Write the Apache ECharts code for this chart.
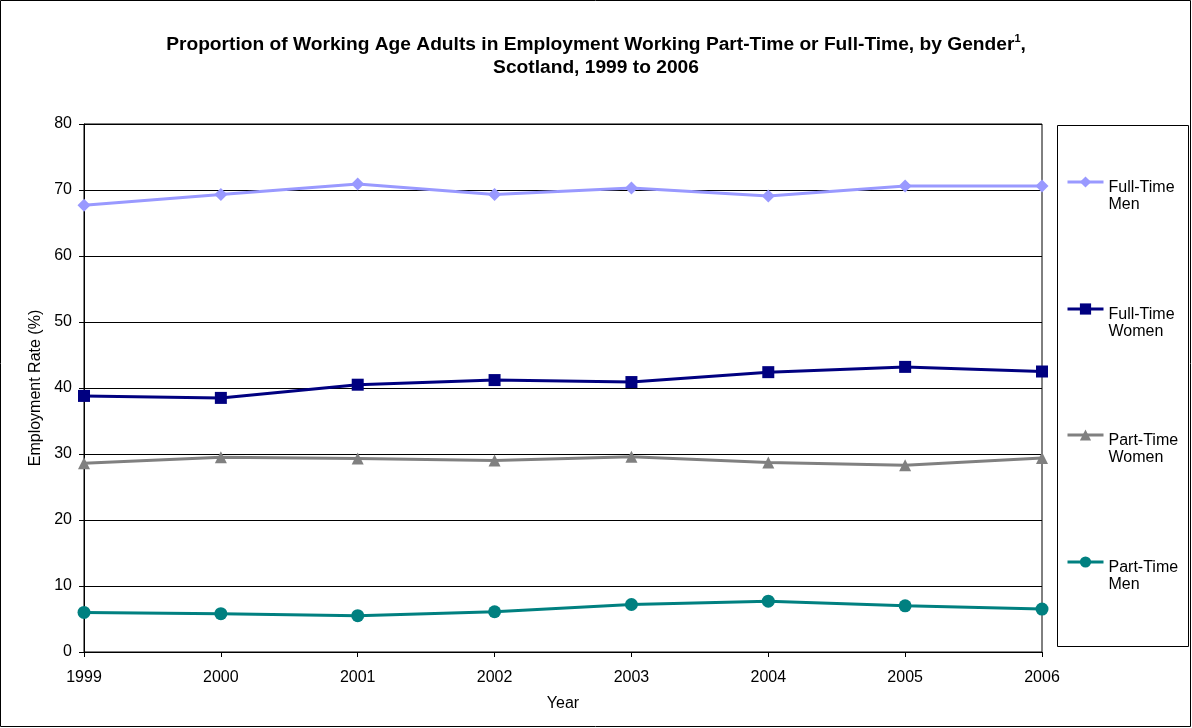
<!DOCTYPE html>
<html><head><meta charset="utf-8">
<script src="https://cdn.jsdelivr.net/npm/echarts@6/dist/echarts.min.js"></script>
<style>html,body{margin:0;padding:0;background:#fff}#c{width:1192px;height:728px}</style>
</head><body><div id="c"></div>
<script>
const years = ['1999','2000','2001','2002','2003','2004','2005','2006'];
const fullTimeMen = [67.7, 69.3, 70.9, 69.3, 70.3, 69.1, 70.6, 70.6];
const fullTimeWomen = [38.8, 38.5, 40.5, 41.2, 40.9, 42.4, 43.2, 42.5];
const partTimeWomen = [28.6, 29.5, 29.3, 29.0, 29.6, 28.7, 28.3, 29.4];
const partTimeMen = [6.0, 5.8, 5.5, 6.1, 7.2, 7.7, 7.0, 6.5];
const seriesNames = ['Full-Time Men', 'Full-Time Women', 'Part-Time Women', 'Part-Time Men'];

const font = '"Liberation Sans", Arial, sans-serif';
const chart = echarts.init(document.getElementById('c'));
const legendTops = [157, 284, 410, 537];
const mk = (name, data, color, symbol, size) => ({
  name, type: 'line', data, symbol, symbolSize: size,
  lineStyle: {color, width: 3}, itemStyle: {color}, color, animation: false
});
chart.setOption({
  animation: false,
  textStyle: {fontFamily: font},
  title: {
    text: '{t|Proportion of Working Age Adults in Employment Working Part-Time or Full-Time, by Gender}{s|1}{t|,}\n{t|Scotland, 1999 to 2006}',
    left: 'center', top: 28,
    textStyle: {
      fontFamily: font,
      rich: {
        t: {fontSize: 19.2, fontWeight: 'bold', color: '#000', fontFamily: font, lineHeight: 23},
        s: {fontSize: 11, fontWeight: 'bold', color: '#000', fontFamily: font, verticalAlign: 'top', lineHeight: 23, padding: [0, 0, 9, 0]}
      }
    }
  },
  graphic: [
    {type: 'rect', shape: {x: 0.5, y: 0.5, width: 1190, height: 726}, style: {fill: 'none', stroke: '#000', lineWidth: 1}, silent: true},
    {type: 'rect', shape: {x: 1057.5, y: 125.5, width: 131, height: 521}, style: {fill: 'none', stroke: '#000', lineWidth: 1}, silent: true}
  ],
  legend: seriesNames.map((n, i) => ({
    data: [n], left: 1066, top: legendTops[i], orient: 'vertical', padding: 0,
    itemWidth: 36, itemHeight: 14, itemGap: 0,
    lineStyle: {width: 3},
    formatter: name => '{e| }\n{a|' + name.replace(' ', '}\n{a|') + '}',
    textStyle: {
      fontFamily: font, fontSize: 16, color: '#000',
      rich: {
        e: {fontSize: 16, lineHeight: 28, fontFamily: font},
        a: {fontSize: 16, lineHeight: 17, color: '#000', fontFamily: font}
      }
    },
    selectedMode: false
  })),
  grid: {left: 84, right: 150, top: 124, bottom: 76, show: true, borderColor: '#000', borderWidth: 1, containLabel: false},
  xAxis: {
    type: 'category', data: years, boundaryGap: false,
    name: 'Year', nameLocation: 'middle', nameGap: 44,
    nameTextStyle: {fontFamily: font, fontSize: 16, color: '#000'},
    axisLine: {lineStyle: {color: '#000', width: 1}},
    axisTick: {show: true, inside: false, length: 5, lineStyle: {color: '#000'}, alignWithLabel: true},
    axisLabel: {fontFamily: font, fontSize: 16, color: '#000', margin: 18},
    splitLine: {show: false}
  },
  yAxis: {
    type: 'value', min: 0, max: 80, interval: 10,
    name: 'Employment Rate (%)', nameLocation: 'middle', nameGap: 34, nameRotate: 90,
    nameTextStyle: {fontFamily: font, fontSize: 16, color: '#000'},
    axisLine: {show: true, lineStyle: {color: '#000', width: 1}},
    axisTick: {show: true, length: 5, lineStyle: {color: '#000'}},
    axisLabel: {fontFamily: font, fontSize: 16, color: '#000', margin: 12},
    splitLine: {show: true, lineStyle: {color: '#000', width: 1}}
  },
  series: [
    mk(seriesNames[0], fullTimeMen, '#9999FF', 'diamond', 13),
    mk(seriesNames[1], fullTimeWomen, '#000080', 'rect', 12),
    mk(seriesNames[2], partTimeWomen, '#808080', 'triangle', 12),
    mk(seriesNames[3], partTimeMen, '#008080', 'circle', 13)
  ]
});
</script>
</body></html>
